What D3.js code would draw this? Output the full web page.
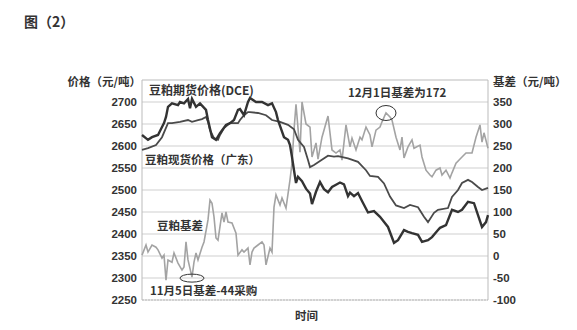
<!DOCTYPE html>
<html>
<head>
<meta charset="utf-8">
<script src="https://cdn.jsdelivr.net/npm/d3@7"></script>
<style>
  body { margin: 0; background: #fff; }
  text { font-family: "Noto Sans CJK SC", "Liberation Sans", sans-serif; font-weight: bold; fill: #333; }
  .num { font-family: "Liberation Sans", sans-serif; }
</style>
</head>
<body>
<svg id="chart" width="577" height="330"></svg>
<script>
// trading day index (x position) and values
const futDays = [0,3,5,8,10,11,12,13,15,18,19,21,23,24,25,27,29,32,33,35,37,39,42,44,46,48,49,51,53,54,57,60,63,65,67,68,71,73,74,75,76,77,78,80,82,84,85,87,89,91,93,95,97,99,101,103,104,106,108,110,113,116,119,123,126,128,131,133,135,138,140,143,145,148,149,152,155,158,160,163,166,168,170,172,173];
const futPrice = [2625,2614,2620,2625,2643,2652,2666,2689,2697,2693,2700,2697,2707,2686,2707,2689,2697,2682,2659,2620,2614,2629,2648,2652,2659,2682,2684,2670,2700,2709,2700,2700,2693,2697,2677,2659,2620,2614,2602,2575,2545,2516,2530,2520,2503,2492,2468,2496,2518,2502,2495,2507,2512,2517,2513,2486,2494,2486,2493,2475,2449,2452,2439,2416,2380,2386,2409,2405,2402,2398,2382,2386,2393,2409,2414,2420,2455,2450,2455,2473,2470,2443,2416,2427,2443];

const spotDays = [0,3,7,10,13,15,19,23,25,28,30,32,33,34,36,38,39,41,44,48,49,51,53,54,58,62,65,69,73,76,78,81,83,84,86,89,93,96,98,103,108,112,114,118,121,124,127,131,134,138,141,143,146,148,153,155,158,160,163,165,168,170,173];
const spotPrice = [2591,2595,2602,2620,2652,2652,2655,2659,2655,2659,2661,2666,2655,2636,2618,2614,2625,2641,2652,2652,2659,2670,2677,2677,2675,2670,2659,2655,2648,2638,2614,2598,2568,2552,2557,2566,2578,2576,2577,2572,2564,2545,2532,2530,2515,2485,2465,2459,2466,2461,2439,2427,2448,2455,2459,2484,2500,2516,2523,2518,2507,2500,2505];

const basisDays = [0,2,3,5,7,8,10,11,12,13,15,16,18,20,21,22,23,25,26,27,28,30,31,33,34,35,36,37,38,40,41,42,43,45,47,48,50,51,53,54,55,56,58,60,61,62,64,65,66,67,69,70,72,74,75,76,77,79,80,82,84,85,87,88,90,93,95,97,99,100,102,104,105,107,109,110,112,114,115,117,119,120,122,124,125,127,129,130,131,133,135,136,139,140,142,144,145,147,149,150,152,154,155,157,160,162,165,167,169,170,171,173];
const basis = [2,25,9,25,20,14,-5,2,-55,-9,-14,7,-16,-32,-25,32,-9,-48,-14,7,-9,20,32,82,127,120,89,41,36,98,77,100,77,75,52,2,14,9,18,-20,9,18,25,32,25,-20,18,9,111,139,116,132,109,173,211,286,345,236,350,300,293,225,257,220,270,318,241,234,241,218,298,248,268,241,270,264,293,275,248,286,293,305,325,316,309,270,241,270,223,248,264,245,252,225,195,184,180,195,200,184,195,177,189,211,225,234,234,270,298,259,280,245];

const priceTicks = [2250,2300,2350,2400,2450,2500,2550,2600,2650,2700];
const basisTicks = [-100,-50,0,50,100,150,200,250,300,350];

const plotLeft = 142, plotRight = 488, plotTop = 80, plotBottom = 300;

const svg = d3.select("#chart");

const x = d3.scaleLinear().domain([0, 173]).range([plotLeft, plotRight]);
const yPrice = d3.scaleLinear().domain([2250, 2750]).range([plotBottom, plotTop]);
const yBasis = d3.scaleLinear().domain([-100, 400]).range([plotBottom, plotTop]);

// grid lines
svg.append("g")
  .selectAll("line")
  .data(priceTicks)
  .enter()
  .append("line")
  .attr("x1", plotLeft).attr("x2", plotRight)
  .attr("y1", d => yPrice(d)).attr("y2", d => yPrice(d))
  .attr("stroke", "#cfcfcf")
  .attr("stroke-width", 1);

// frame
svg.append("line").attr("x1", plotLeft).attr("x2", plotRight).attr("y1", plotTop).attr("y2", plotTop).attr("stroke", "#bbb");
svg.append("line").attr("x1", plotLeft).attr("x2", plotLeft).attr("y1", plotTop).attr("y2", plotBottom).attr("stroke", "#bbb");
svg.append("line").attr("x1", plotRight).attr("x2", plotRight).attr("y1", plotTop).attr("y2", plotBottom).attr("stroke", "#bbb");
svg.append("line").attr("x1", plotLeft).attr("x2", plotRight).attr("y1", plotBottom).attr("y2", plotBottom)
  .attr("stroke", "#bbb").attr("stroke-dasharray", "2,1");

// axes (labels only)
const leftAxis = svg.append("g")
  .attr("transform", `translate(${plotLeft},0)`)
  .call(d3.axisLeft(yPrice).tickValues(priceTicks).tickSize(0).tickPadding(5).tickFormat(d3.format("d")));
const rightAxis = svg.append("g")
  .attr("transform", `translate(${plotRight},0)`)
  .call(d3.axisRight(yBasis).tickValues(basisTicks).tickSize(0).tickPadding(5).tickFormat(d => d < 0 ? "-" + Math.abs(d) : d));
[leftAxis, rightAxis].forEach(ax => {
  ax.select(".domain").remove();
  ax.selectAll("text")
    .attr("class", "num")
    .style("font-size", "11.5px")
    .style("font-weight", "bold")
    .attr("fill", "#333");
});

// lines
const line = (days, yScale) => d3.line().x((d, i) => x(days[i])).y(d => yScale(d));

svg.append("path")
  .datum(basis)
  .attr("d", line(basisDays, yBasis))
  .attr("fill", "none")
  .attr("stroke", "#a3a3a3")
  .attr("stroke-width", 1.6);

svg.append("path")
  .datum(spotPrice)
  .attr("d", line(spotDays, yPrice))
  .attr("fill", "none")
  .attr("stroke", "#4a4a4a")
  .attr("stroke-width", 1.8);

svg.append("path")
  .datum(futPrice)
  .attr("d", line(futDays, yPrice))
  .attr("fill", "none")
  .attr("stroke", "#333")
  .attr("stroke-width", 2.4);

// circled points
const low = basis.indexOf(-48);
const high = basis.indexOf(325);
svg.append("ellipse")
  .attr("cx", x(basisDays[low])).attr("cy", yBasis(basis[low]) + 1)
  .attr("rx", 12).attr("ry", 4)
  .attr("fill", "none").attr("stroke", "#333").attr("stroke-width", 1);
svg.append("ellipse")
  .attr("cx", x(basisDays[high])).attr("cy", yBasis(basis[high]))
  .attr("rx", 10).attr("ry", 7.5)
  .attr("fill", "none").attr("stroke", "#333").attr("stroke-width", 1);

// texts
const label = (t, px, py, size, anchor) => svg.append("text")
  .attr("x", px).attr("y", py)
  .attr("text-anchor", anchor || "start")
  .style("font-size", (size || 11.5) + "px")
  .text(t);

label("图（2）", 24, 27, 14);
label("价格（元/吨）", 141, 86, 11.5, "end");
label("基差（元/吨）", 493, 86);
label("豆粕期货价格(DCE)", 149, 95, 12);
label("豆粕现货价格（广东）", 145, 164, 11.5);
label("豆粕基差", 157, 230, 11.5);
label("11月5日基差-44采购", 150, 295, 11.5);
label("12月1日基差为172", 348, 97, 11.5);
label("时间", 295, 320, 11.5);
</script>
</body>
</html>
